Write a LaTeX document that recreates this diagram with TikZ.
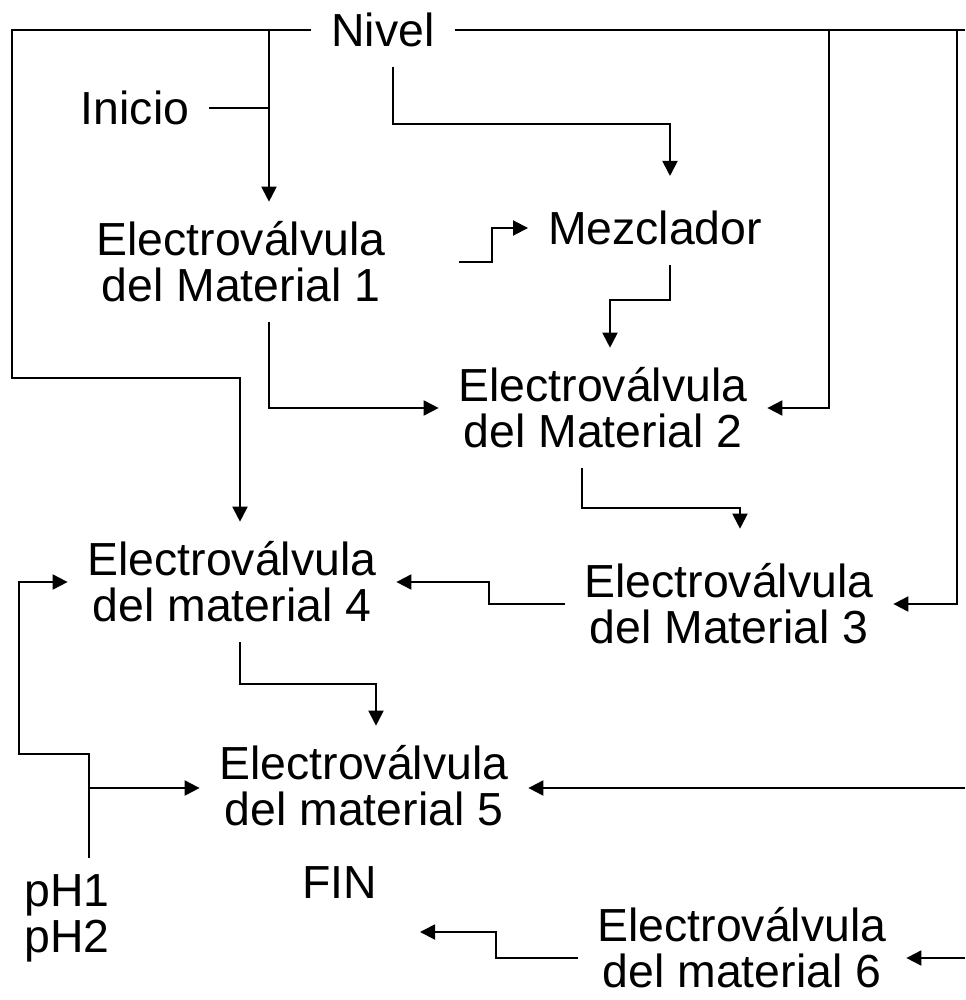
\documentclass[tikz,border=0pt]{standalone}
\usepackage{fontspec}
\setmainfont{Liberation Sans}
\usepackage{tikz}
\usetikzlibrary{arrows.meta,positioning}

\begin{document}
\begin{tikzpicture}[x=0.02cm,y=-0.02cm,
  txt/.style={align=center,inner sep=0pt,outer sep=0.4cm,
              font=\fontsize{26.4}{26.2}\selectfont},
  ln/.style={-,draw=black,line width=1.1pt},
  ar/.style={-{Triangle[length=0.3cm,width=0.3cm]},draw=black,line width=1.1pt}]
\useasboundingbox (0,0) rectangle (965,1000);

% ---- labels ---------------------------------------------------------------
\node[txt] (nivel)  at (383,30)  {Nivel};
\node[txt] (inicio) at (135,108) {Inicio};
\node[txt] (ev1)    at (241,262) {Electroválvula\\del Material 1};
\node[txt] (mez)    at (655,228) {Mezclador};
\node[txt] (ev2)    at (603,408) {Electroválvula\\del Material 2};
\node[txt] (ev4)    at (232,582) {Electroválvula\\del material 4};
\node[txt] (ev3)    at (729,604) {Electroválvula\\del Material 3};
\node[txt] (ev5)    at (364,786) {Electroválvula\\del material 5};
\node[txt] (ph)     at (67,918)  {pH1\\pH2};
\node[txt] (fin)    at (340,883) {FIN};
\node[txt] (ev6)    at (742,948) {Electroválvula\\del material 6};

% free ends at the right border and in front of FIN
\coordinate (r5)    at (965,788);
\coordinate (r6)    at (965,958);
\coordinate (finin) at (420,932);

% ---- Nivel feeds the valves ----------------------------------------------
\draw[ar] (nivel.west) -- (12,30) -- (12,378) -| ([xshift=0.16cm]ev4.north);
\draw[ar] (nivel.west) -| ([xshift=0.56cm]ev1.north);
\draw[ln] (inicio.east) -- ([xshift=0.56cm]ev1.north |- inicio.east);
\draw[ln] (nivel.east) -- (965,30);
\draw[ar] (nivel.east) -| (829,408) -- (ev2.east);
\draw[ar] (nivel.east) -| (957,604) -- (ev3.east);
\draw[ar] ([xshift=0.2cm]nivel.south) |- (670,124)
  -- ([xshift=0.3cm,yshift=0.3cm]mez.north);

% ---- sequence of the valves ----------------------------------------------
\draw[ar] ([xshift=1.08cm]ev1.east) -- ++(33,0) |- (mez.west);
\draw[ar] ([xshift=0.3cm]mez.south) -- ++(0,35) -| ([xshift=0.14cm]ev2.north);
\draw[ar] ([xshift=0.56cm]ev1.south) |- (ev2.west);
\draw[ar] ([xshift=-0.42cm]ev2.south) -- ++(0,40)
  -| ([xshift=0.22cm,yshift=0.3cm]ev3.north);
\draw[ar] (ev3.west) -- ++(-76,0) |- (ev4.east);
\draw[ar] ([xshift=0.16cm]ev4.south) -- ++(0,42) -| ([xshift=0.24cm]ev5.north);
\draw[ar] (r5) -- (r5 -| ev5.east);

% ---- pH sensors ------------------------------------------------------------
\draw[ar] ([xshift=0.44cm,yshift=-0.08cm]ph.north) |- (19,754) |- (ev4.west);
\draw[ar] ([xshift=0.44cm,yshift=-0.08cm]ph.north) |- (r5 -| ev5.west);

% ---- end -------------------------------------------------------------------
\draw[ar] ([yshift=-0.2cm]ev6.west) -- ++(-82,0) |- (finin);
\draw[ar] (r6) -- (r6 -| ev6.east);
\end{tikzpicture}
\end{document}
